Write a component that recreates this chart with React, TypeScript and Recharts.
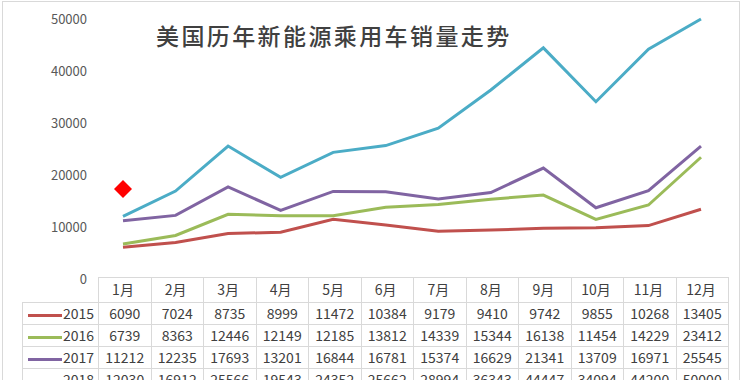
import React from 'react';
import { LineChart, Line, XAxis, YAxis, ReferenceDot } from 'recharts';

const months = ['1月', '2月', '3月', '4月', '5月', '6月', '7月', '8月', '9月', '10月', '11月', '12月'];
const sales2015 = [6090, 7024, 8735, 8999, 11472, 10384, 9179, 9410, 9742, 9855, 10268, 13405];
const sales2016 = [6739, 8363, 12446, 12149, 12185, 13812, 14339, 15344, 16138, 11454, 14229, 23412];
const sales2017 = [11212, 12235, 17693, 13201, 16844, 16781, 15374, 16629, 21341, 13709, 16971, 25545];
const sales2018 = [12030, 16912, 25566, 19543, 24352, 25662, 28994, 36343, 44447, 34094, 44200, 50000];
const yTicks = [0, 10000, 20000, 30000, 40000, 50000];

const series = [
  { year: '2015', values: sales2015, color: '#C0504D' },
  { year: '2016', values: sales2016, color: '#9BBB59' },
  { year: '2017', values: sales2017, color: '#8064A2' },
  { year: '2018', values: sales2018, color: '#4BACC6' },
];

const chartData = months.map((m, i) => {
  const row: Record<string, string | number> = { month: m };
  series.forEach((s) => {
    row[s.year] = s.values[i];
  });
  return row;
});

const FONT = '"Noto Sans CJK SC", "Noto Sans", sans-serif';
const borderColor = '#d9d9d9';
const textColor = '#404040';

// red diamond marker near January
const Diamond = (props: any) => {
  const { cx, cy } = props;
  const r = 9;
  return <path d={`M${cx},${cy - r}L${cx + r},${cy}L${cx},${cy + r}L${cx - r},${cy}Z`} fill="#FF0000" />;
};

const App: React.FC = () => {
  const cell: React.CSSProperties = {
    border: `1px solid ${borderColor}`,
    padding: 0,
    textAlign: 'center',
    fontSize: 14,
    color: textColor,
    height: 21,
    lineHeight: '21px',
    whiteSpace: 'nowrap',
    boxSizing: 'border-box',
  };

  return (
    <div
      style={{
        position: 'absolute',
        left: 0,
        top: 0,
        width: 744,
        height: 380,
        background: '#fff',
        overflow: 'hidden',
        fontFamily: FONT,
      }}
    >
      <div
        style={{
          position: 'absolute',
          left: 2,
          top: 1,
          width: 738,
          height: 400,
          border: `1px solid ${borderColor}`,
          boxSizing: 'border-box',
        }}
      />
      <LineChart width={744} height={380} data={chartData} margin={{ top: 19, right: 17, bottom: 71, left: 0 }}>
        <XAxis
          dataKey="month"
          height={30}
          padding={{ left: 26, right: 26 }}
          axisLine={false}
          tickLine={false}
          tickMargin={0}
          tick={{ fill: textColor, fontSize: 14, fontFamily: FONT }}
          interval={0}
        />
        <YAxis
          width={97}
          domain={[0, 50000]}
          ticks={yTicks}
          axisLine={false}
          tickLine={false}
          tickMargin={4}
          tick={{ fill: '#595959', fontSize: 13, fontFamily: FONT }}
        />
        {series.map((s) => (
          <Line
            key={s.year}
            type="linear"
            dataKey={s.year}
            stroke={s.color}
            strokeWidth={3}
            dot={false}
            activeDot={false}
            isAnimationActive={false}
          />
        ))}
        <ReferenceDot x="1月" y={17300} r={9} shape={Diamond} />
      </LineChart>

      <div
        style={{
          position: 'absolute',
          left: 156,
          top: 18,
          fontSize: 23,
          letterSpacing: 2.4,
          fontWeight: 500,
          color: textColor,
          fontFamily: FONT,
        }}
      >
        美国历年新能源乘用车销量走势
      </div>

      <table
        style={{
          position: 'absolute',
          left: 22,
          top: 277,
          borderCollapse: 'collapse',
          tableLayout: 'fixed',
          width: 706,
          pointerEvents: 'none',
          fontFamily: FONT,
        }}
      >
        <colgroup>
          <col style={{ width: 76 }} />
          {months.map((m) => (
            <col key={m} style={{ width: 52.5 }} />
          ))}
        </colgroup>
        <tbody>
          <tr>
            <td style={{ ...cell, border: 'none', borderBottom: `1px solid ${borderColor}`, height: 25 }} />
            {months.map((m) => (
              <td key={m} style={{ ...cell, height: 25 }} />
            ))}
          </tr>
          {series.map((s) => (
            <tr key={s.year}>
              <td style={{ ...cell, textAlign: 'right', paddingRight: 4 }}>
                <span
                  style={{
                    display: 'inline-block',
                    width: 34,
                    height: 3,
                    background: s.color,
                    verticalAlign: 'middle',
                    marginRight: 1,
                  }}
                />
                {s.year}
              </td>
              {s.values.map((v, i) => (
                <td key={i} style={cell}>
                  {v}
                </td>
              ))}
            </tr>
          ))}
        </tbody>
      </table>
    </div>
  );
};

export default App;
